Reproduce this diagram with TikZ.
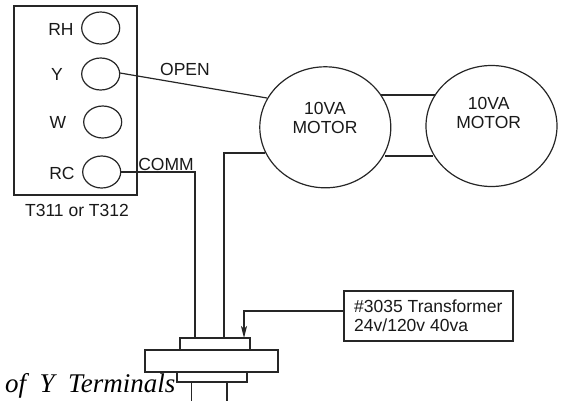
\documentclass[tikz,border=0pt]{standalone}
\usepackage{fontspec}
\setmainfont{Liberation Sans}
\newfontfamily\serifit{Liberation Serif}[ItalicFont=* Italic]
\usetikzlibrary{shapes.geometric,arrows.meta}
\tikzset{
  wire/.style={draw=black!85,line width=1.2pt},
  term/.style={ellipse,draw=black!85,line width=1.2pt,minimum width=38pt,minimum height=32pt,inner sep=0pt},
  motor/.style={ellipse,draw=black!85,line width=1.2pt,minimum width=131pt,minimum height=121pt,inner sep=0pt},
  plate/.style={rectangle,draw=black!85,line width=1.2pt,inner sep=0pt,fill=white},
  lab/.style={font=\fontsize{17.5}{19}\selectfont,text=black!90,inner sep=0pt,align=center},
}
\begin{document}
\begin{tikzpicture}[x=1pt,y=-1pt]
\useasboundingbox (0,0) rectangle (561,402);
\node[plate,fill=none,minimum width=123pt,minimum height=189pt] (box) at (75.5,100.5) {};
\node[term] (rh) at (100.7,28) {};
\node[term] (y) at (100.7,74) {};
\node[term] (w) at (102.7,122) {};
\node[term] (rc) at (101.7,172) {};
\node[lab] (lrh) at (61,29) {RH};
\node[lab] (ly) at (57,74) {Y};
\node[lab] (lw) at (58,122) {W};
\node[lab] (lrc) at (62,173) {RC};
\node[lab] (lt) at (77,210) {T311 or T312};
\node[motor] (m1) at (325.3,127.3) {};
\node[motor] (m2) at (491.5,126) {};
\node[lab] (lm1) at (325,117.5) {10VA\\MOTOR};
\node[lab] (lm2) at (488.7,112.5) {10VA\\MOTOR};
\node[lab] (lopen) at (185,69) {OPEN};
\node[lab] (lcomm) at (166,164) {COMM};
\node[plate,minimum width=70pt,minimum height=12pt] (top) at (215,344) {};
\node[plate,minimum width=133pt,minimum height=22pt] (mid) at (211.5,361) {};
\node[plate,minimum width=70pt,minimum height=10pt] (low) at (212,377) {};
\node[plate,minimum width=169pt,minimum height=50pt] (tr) at (428.5,316) {};
\node[lab,align=left,anchor=west] (ltr) at (354,316) {\#3035 Transformer\\24v/120v 40va};
\coordinate (a1) at (195,338);
\coordinate (a2) at (224,338);
\coordinate (a3) at (244,338);
\coordinate (s1) at (120,73);
\coordinate (e1) at (267,98);
\coordinate (e2) at (265,153);
\coordinate (l1) at (381,95);
\coordinate (r1) at (435,95);
\coordinate (l2) at (385,156);
\coordinate (r2) at (433,156);
\coordinate (t1) at (344,311);
\draw[wire] (s1) -- (e1);
\draw[wire] (rc.east) -| (a1);
\draw[wire] (e2) -| (a2);
\draw[wire] (l1) -- (r1);
\draw[wire] (l2) -- (r2);
\draw[wire,-{Stealth[length=12pt,width=6pt,inset=3pt]}] (t1) -| (a3);
\coordinate (b1) at (191.3,382);
\coordinate (b2) at (191.3,401);
\coordinate (b3) at (227,382);
\coordinate (b4) at (227,401);
\draw[wire] (b1) -- (b2);
\draw[wire] (b3) -- (b4);
\node[anchor=base west,inner sep=0pt,font=\serifit\itshape\fontsize{27}{30}\selectfont] (cap) at (5,392) {of\ \ Y\ \ Terminals};
\end{tikzpicture}
\end{document}
